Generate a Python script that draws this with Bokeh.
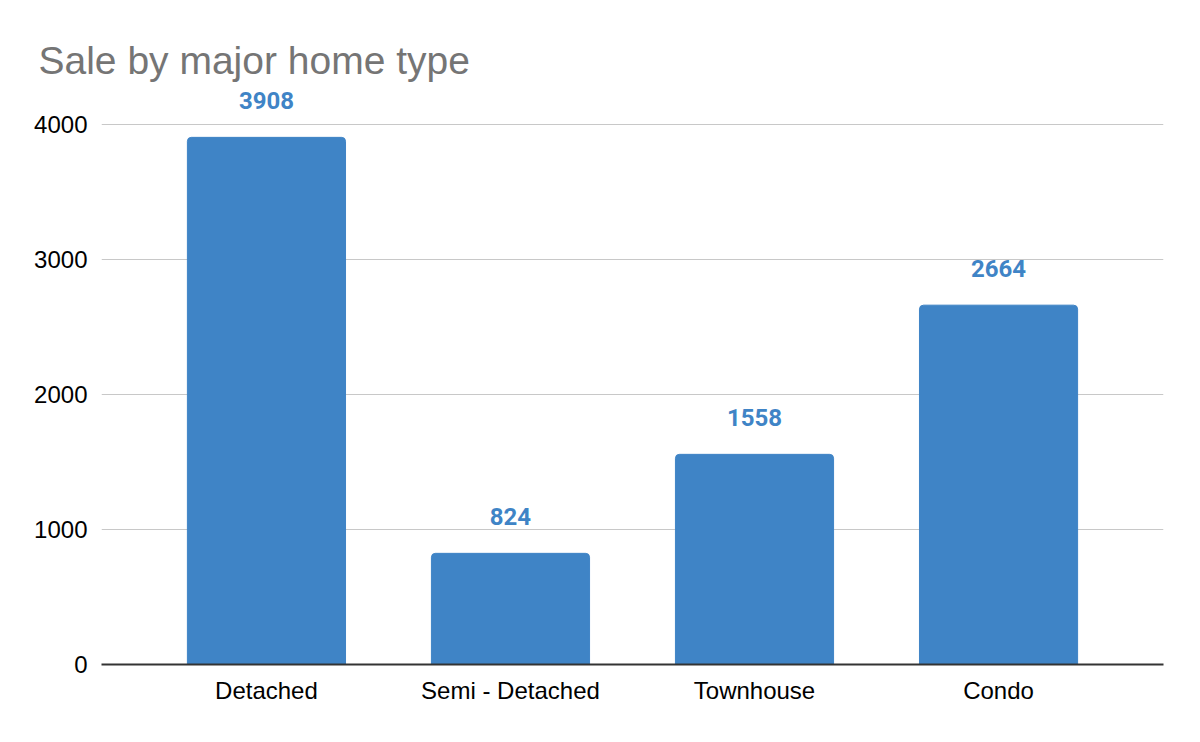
from bokeh.plotting import figure
from bokeh.models import ColumnDataSource, FactorRange, Range1d, FixedTicker
from bokeh.embed import file_html
from bokeh.resources import INLINE
from bokeh.core.properties import value

categories = ["Detached", "Semi - Detached", "Townhouse", "Condo"]
sales = [3908, 824, 1558, 2664]
y_ticks = [0, 1000, 2000, 3000, 4000]

src = ColumnDataSource(dict(cat=categories, val=sales, lab=[str(v) for v in sales]))

p = figure(width=1184, height=726, output_backend="svg", toolbar_location=None,
           x_range=FactorRange(factors=categories, range_padding=0.176, range_padding_units="absolute"),
           y_range=Range1d(0, 4300),
           min_border_left=101, min_border_right=21, min_border_bottom=62, min_border_top=84,
           title="Sale by major home type")

p.title.text_font = "Liberation Sans"
p.title.text_font_size = "39px"
p.title.text_font_style = "normal"
p.title.text_color = "#757575"
p.title.offset = -63
p.title.standoff = 6

p.vbar(x="cat", top="val", width=0.648, source=src, color="#3f84c6", border_radius=(4, 4, 0, 0))
p.text(x="cat", y="val", text="lab", source=src, text_align="center", text_baseline="middle",
       y_offset=-37, text_font=value("Roboto"), text_font_style="bold", text_font_size="24px",
       text_color="#3f84c6")

p.outline_line_color = None
p.xgrid.grid_line_color = None
p.ygrid.grid_line_color = "#c8c8c8"
p.ygrid.grid_line_width = 1.2
p.yaxis.ticker = FixedTicker(ticks=y_ticks)
p.yaxis.axis_line_color = None
p.yaxis.major_tick_line_color = None
p.yaxis.minor_tick_line_color = None
p.yaxis.major_label_text_font = "Liberation Sans"
p.yaxis.major_label_text_font_size = "24px"
p.yaxis.major_label_text_color = "#000000"
p.yaxis.major_label_standoff = 8

p.xaxis.axis_line_color = "#333333"
p.xaxis.axis_line_width = 2
p.xaxis.major_tick_line_color = None
p.xaxis.minor_tick_line_color = None
p.xaxis.major_label_text_font = "Liberation Sans"
p.xaxis.major_label_text_font_size = "24px"
p.xaxis.major_label_text_color = "#000000"
p.xaxis.major_label_standoff = 6

open("out.html", "w").write(file_html(p, INLINE))
